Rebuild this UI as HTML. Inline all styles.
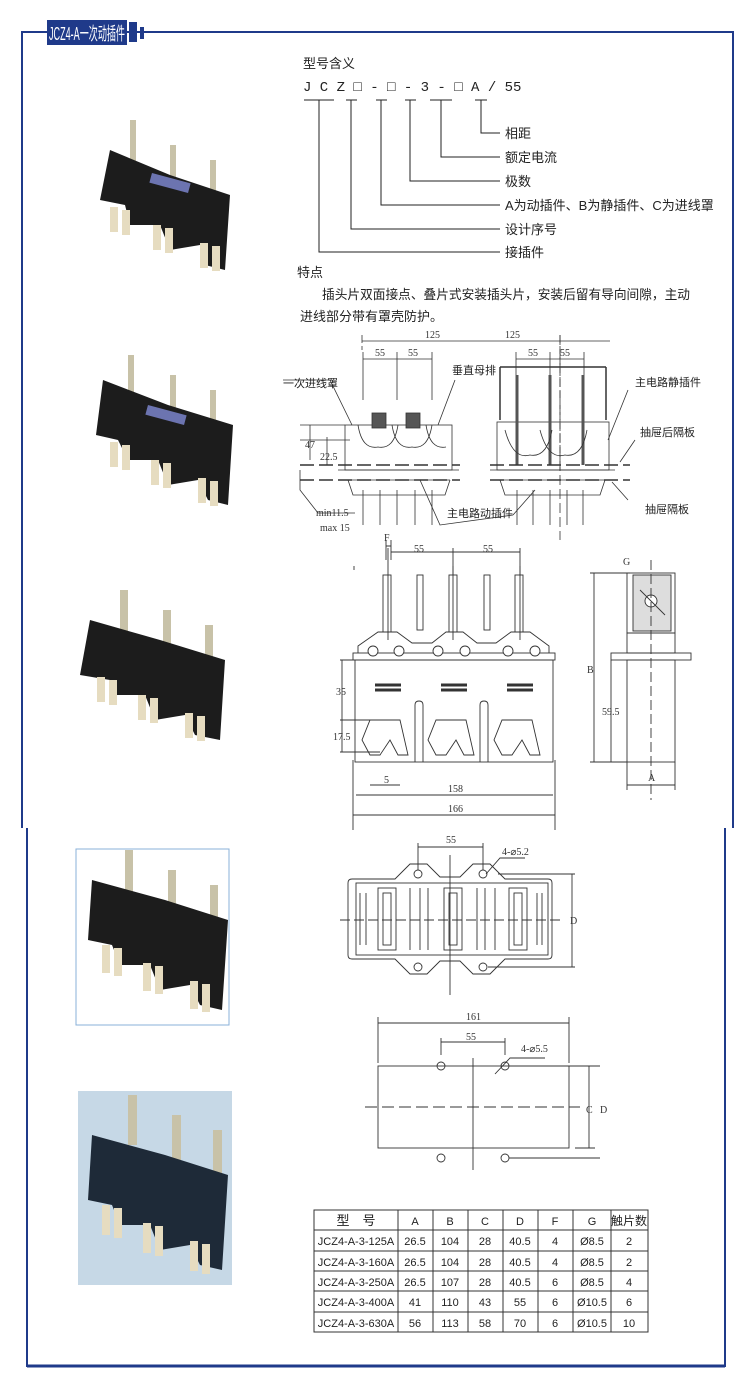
<!DOCTYPE html>
<html><head><meta charset="utf-8"><style>
body{margin:0;background:#fff;}
svg{display:block;font-family:"Liberation Sans","Noto Sans CJK SC",sans-serif;}
</style></head><body>
<svg width="750" height="1393" viewBox="0 0 750 1393" xmlns="http://www.w3.org/2000/svg">
<!-- frames -->
<g fill="none" stroke="#1f3a8a">
<path d="M22 828 V32 H733 V828" stroke-width="2"/>
<path d="M27 828 V1366 H725 V828" stroke-width="2"/>
<line x1="27" y1="1366" x2="725" y2="1366" stroke-width="3"/>
</g>
<rect x="47" y="20" width="80" height="25" fill="#1f3a8a"/>
<text x="49" y="40" font-size="18" fill="#fff" textLength="76" lengthAdjust="spacingAndGlyphs">JCZ4-A一次动插件</text>
<rect x="129" y="22" width="8" height="20" fill="#1f3a8a"/>
<rect x="140" y="27" width="4" height="12" fill="#1f3a8a"/>

<!-- photos -->
<g>
<g transform="translate(90,115)">
<rect x="40" y="5" width="6" height="45" fill="#c8c2a8"/><rect x="80" y="30" width="6" height="40" fill="#c8c2a8"/><rect x="120" y="45" width="6" height="40" fill="#c8c2a8"/>
<path d="M20 35 L80 60 L140 80 L135 155 L115 150 L110 130 L80 135 L70 110 L40 110 L35 90 L10 85 Z" fill="#1c1c1c"/>
<rect x="60" y="63" width="40" height="10" fill="#6c74b0" transform="rotate(15 80 68)"/>
<g fill="#e6dcc0"><rect x="20" y="92" width="8" height="25"/><rect x="32" y="95" width="8" height="25"/><rect x="63" y="110" width="8" height="25"/><rect x="75" y="113" width="8" height="25"/><rect x="110" y="128" width="8" height="25"/><rect x="122" y="131" width="8" height="25"/></g>
</g>
<g transform="translate(88,350)">
<rect x="40" y="5" width="6" height="45" fill="#c8c2a8"/><rect x="82" y="25" width="6" height="40" fill="#c8c2a8"/><rect x="122" y="40" width="6" height="40" fill="#c8c2a8"/>
<path d="M15 30 L80 55 L145 75 L140 155 L120 150 L110 130 L80 135 L70 110 L40 110 L30 90 L8 85 Z" fill="#1c1c1c"/>
<rect x="58" y="60" width="40" height="10" fill="#6c74b0" transform="rotate(15 78 65)"/>
<g fill="#e6dcc0"><rect x="22" y="92" width="8" height="25"/><rect x="34" y="95" width="8" height="25"/><rect x="63" y="110" width="8" height="25"/><rect x="75" y="113" width="8" height="25"/><rect x="110" y="128" width="8" height="25"/><rect x="122" y="131" width="8" height="25"/></g>
</g>
<g transform="translate(75,585)">
<rect x="45" y="5" width="8" height="45" fill="#c8c2a8"/><rect x="88" y="25" width="8" height="40" fill="#c8c2a8"/><rect x="130" y="40" width="8" height="40" fill="#c8c2a8"/>
<path d="M15 35 L85 55 L150 75 L145 155 L120 150 L110 130 L80 135 L70 110 L40 110 L35 95 L5 90 Z" fill="#1c1c1c"/>
<g fill="#e6dcc0"><rect x="22" y="92" width="8" height="25"/><rect x="34" y="95" width="8" height="25"/><rect x="63" y="110" width="8" height="25"/><rect x="75" y="113" width="8" height="25"/><rect x="110" y="128" width="8" height="25"/><rect x="122" y="131" width="8" height="25"/></g>
</g>
<rect x="76" y="849" width="153" height="176" fill="#fff" stroke="#8ab0d8"/>
<g transform="translate(80,850)">
<rect x="45" y="0" width="8" height="45" fill="#c8c2a8"/><rect x="88" y="20" width="8" height="40" fill="#c8c2a8"/><rect x="130" y="35" width="8" height="40" fill="#c8c2a8"/>
<path d="M12 30 L85 50 L148 70 L142 160 L120 155 L110 135 L80 140 L70 115 L40 115 L32 95 L8 90 Z" fill="#1c1c1c"/>
<g fill="#e6dcc0"><rect x="22" y="95" width="8" height="28"/><rect x="34" y="98" width="8" height="28"/><rect x="63" y="113" width="8" height="28"/><rect x="75" y="116" width="8" height="28"/><rect x="110" y="131" width="8" height="28"/><rect x="122" y="134" width="8" height="28"/></g>
</g>
<rect x="78" y="1091" width="154" height="194" fill="#c6d8e6"/>
<g transform="translate(80,1095)">
<rect x="48" y="0" width="9" height="50" fill="#c8c2a8"/><rect x="92" y="20" width="9" height="45" fill="#c8c2a8"/><rect x="133" y="35" width="9" height="45" fill="#c8c2a8"/>
<path d="M12 40 L85 60 L148 80 L142 175 L120 170 L110 150 L80 155 L70 130 L40 130 L32 110 L8 105 Z" fill="#1e2a38"/>
<g fill="#e6dcc0"><rect x="22" y="110" width="8" height="30"/><rect x="34" y="113" width="8" height="30"/><rect x="63" y="128" width="8" height="30"/><rect x="75" y="131" width="8" height="30"/><rect x="110" y="146" width="8" height="30"/><rect x="122" y="149" width="8" height="30"/></g>
</g>
</g>

<!-- model meaning -->
<g font-size="13" fill="#222">
<text x="303" y="68">型号含义</text>
<text x="303" y="91" font-family="Liberation Mono,monospace" font-size="14">J C Z □ - □ - 3 - □ A / 55</text>
<text x="505" y="138">相距</text>
<text x="505" y="162">额定电流</text>
<text x="505" y="186">极数</text>
<text x="505" y="210">A为动插件、B为静插件、C为进线罩</text>
<text x="505" y="234">设计序号</text>
<text x="505" y="257">接插件</text>
<text x="297" y="277">特点</text>
<text x="322" y="299" textLength="368" lengthAdjust="spacingAndGlyphs">插头片双面接点、叠片式安装插头片，安装后留有导向间隙，主动</text>
<text x="300" y="321">进线部分带有罩壳防护。</text>
</g>
<g stroke="#222" fill="none" stroke-width="1">
<path d="M304 100 H334 M346 100 H357 M376 100 H387 M405 100 H416 M430 100 H452 M475 100 H487"/>
<path d="M319 100 V252 H500 M351 100 V229 H500 M381 100 V205 H500 M410 100 V181 H500 M441 100 V157 H500 M481 100 V133 H500"/>
</g>

<!-- section drawing -->
<g stroke="#333" fill="none" stroke-width="0.8" font-family="Liberation Serif,serif">
<path d="M362 335 V350 M560 335 V470" stroke-dasharray="8 3"/>
<path d="M362 341 H610"/>
<path d="M363 359 H432 M363 352 V400 M397 352 V400 M432 352 V400" />
<path d="M516 359 H584 M516 352 V400 M550 352 V400 M584 352 V400"/>
<path d="M560 335 V540" stroke-dasharray="10 4"/>
<rect x="345" y="425" width="107" height="45"/>
<rect x="372" y="413" width="14" height="15" fill="#555"/><rect x="406" y="413" width="14" height="15" fill="#555"/>
<path d="M358 425 q4 25 20 22 q16 3 20 -22 M392 425 q4 25 20 22 q16 3 20 -22 M426 425 q4 25 20 22"/>
<path d="M338 470 H459 M345 480 H450 M348 480 l5 15 H445 l5 -15"/>
<path d="M363 490 V525 M380 490 V525 M397 490 V525 M415 490 V525 M432 490 V525"/>
<path d="M500 367 H606 M500 367 V420 M606 367 V420" stroke-width="1.5"/>
<rect x="497" y="422" width="112" height="48"/>
<path d="M517 375 V465 M550 375 V465 M583 375 V465" stroke-width="3" stroke="#555"/>
<path d="M505 430 q8 30 25 25 q17 3 22 -25 M540 430 q8 30 25 25 q17 3 22 -25" />
<path d="M490 470 H615 M497 480 H606 M500 480 l5 15 H600 l5 -15"/>
<path d="M517 490 V525 M533 490 V525 M550 490 V525 M567 490 V525 M583 490 V525"/>
<path d="M300 465 H460 M490 465 H630 M300 480 H460 M490 480 H630" stroke-dasharray="14 5" stroke-width="1.6"/>
<path d="M300 425 H345 M310 425 V460 M327 437 V465 M300 440 H350"/>
<path d="M300 470 V490 L318 513 H355"/>
<path d="M283 380 H330 L352 425 M455 380 L438 425 M628 390 L608 440 M635 440 L620 462 M628 500 L612 482 M513 515 L440 525 L420 480 M513 515 L535 490"/>
</g>
<g font-size="10" fill="#333" font-family="Liberation Serif,serif">
<text x="425" y="338">125</text><text x="505" y="338">125</text>
<text x="375" y="356">55</text><text x="408" y="356">55</text><text x="528" y="356">55</text><text x="560" y="356">55</text>
<text x="305" y="448">47</text><text x="320" y="460">22.5</text>
<text x="316" y="516">min11.5</text><text x="320" y="531">max 15</text>
</g>
<g font-size="11" fill="#222">
<text x="283" y="387">一次进线罩</text>
<text x="452" y="374">垂直母排</text>
<text x="635" y="386">主电路静插件</text>
<text x="640" y="436">抽屉后隔板</text>
<text x="447" y="517">主电路动插件</text>
<text x="645" y="513">抽屉隔板</text>
</g>

<!-- front view -->
<g stroke="#333" fill="none" stroke-width="0.9">
<path d="M386 540 V560 M391 540 V560 M386 546 H391 M391 552 H520 M453 548 V640 M520 548 V640 M388 548 V640" />
<rect x="383" y="575" width="8" height="57"/><rect x="449" y="575" width="8" height="57"/><rect x="515" y="575" width="8" height="57"/>
<rect x="417" y="575" width="6" height="55"/><rect x="484" y="575" width="6" height="55"/>
<path d="M358 653 V646 L378 632 H397 L412 643 H432 L446 632 H463 L477 643 H496 L511 632 H530 L549 646 V653"/>
<rect x="353" y="653" width="202" height="7"/>
<rect x="355" y="660" width="198" height="102"/>
<g fill="#fff"><circle cx="373" cy="651" r="5"/><circle cx="399" cy="651" r="5"/><circle cx="438" cy="651" r="5"/><circle cx="465" cy="651" r="5"/><circle cx="508" cy="651" r="5"/><circle cx="535" cy="651" r="5"/></g>
<path d="M375 685 H401 M375 690 H401 M441 685 H467 M441 690 H467 M507 685 H533 M507 690 H533" stroke-width="3"/>
<path d="M415 762 V705 q0 -4 4 -4 q4 0 4 4 V762 M480 762 V705 q0 -4 4 -4 q4 0 4 4 V762"/>
<path d="M370 720 H400 L408 755 H398 L390 740 L380 755 H370 L362 740 Z M436 720 H466 L474 755 H464 L456 740 L446 755 H436 L428 740 Z M502 720 H532 L540 755 H530 L522 740 L512 755 H502 L494 740 Z"/>
<path d="M340 660 H355 M340 720 H400 M340 752 H380 M342 660 V752 M370 785 H400 M356 795 H553 M353 815 H555 M353 760 V830 M555 760 V830"/>
<!-- side view -->
<rect x="627" y="573" width="48" height="60"/>
<rect x="633" y="575" width="38" height="56" fill="#ddd"/>
<circle cx="651" cy="601" r="6" fill="#fff"/>
<path d="M640 590 L665 615"/>
<rect x="627" y="633" width="48" height="20"/>
<rect x="611" y="653" width="80" height="7"/>
<rect x="627" y="660" width="48" height="102"/>
<path d="M651 560 V800" stroke-dasharray="10 4"/>
<path d="M590 573 H630 M590 762 H627 M594 573 V762 M611 660 V762 M627 762 V790 M675 762 V790 M627 785 H675"/>
<path d="M354 566 V570 M453 566 V575 M520 566 V575"/>
</g>
<g font-size="10" fill="#333" font-family="Liberation Serif,serif">
<text x="384" y="541">F</text><text x="414" y="552">55</text><text x="483" y="552">55</text>
<text x="336" y="695">35</text><text x="333" y="740">17.5</text><text x="384" y="783">5</text>
<text x="448" y="792">158</text><text x="448" y="812">166</text>
<text x="623" y="565">G</text><text x="587" y="673">B</text><text x="602" y="715">59.5</text><text x="648" y="781">A</text>
</g>

<!-- top view -->
<g stroke="#333" fill="none" stroke-width="0.9">
<path d="M352 879 H395 L410 864 H427 L440 877 H460 L473 864 H490 L505 879 H548 q4 0 4 4 V955 q0 4 -4 4 H505 L490 974 H473 L460 961 H440 L427 974 H410 L395 959 H352 q-4 0 -4 -4 V883 q0 -4 4 -4 Z"/>
<rect x="356" y="883" width="192" height="72"/>
<rect x="378" y="888" width="18" height="62"/><rect x="444" y="888" width="18" height="62"/><rect x="509" y="888" width="18" height="62"/>
<rect x="383" y="893" width="8" height="52"/><rect x="449" y="893" width="8" height="52"/><rect x="514" y="893" width="8" height="52"/>
<path d="M360 893 V945 M366 893 V945 M410 888 V950 M420 888 V950 M428 888 V950 M477 888 V950 M485 888 V950 M495 888 V950 M537 893 V945 M542 893 V945"/>
<path d="M340 920 H560" stroke-dasharray="10 4"/>
<path d="M450 855 V995"/>
<path d="M418 847 H483 M418 843 V870 M483 843 V870 M486 874 L500 858 H525 M498 874 H575 M488 967 H575 M572 874 V967"/>
<circle cx="418" cy="874" r="4"/><circle cx="483" cy="874" r="4"/><circle cx="418" cy="967" r="4"/><circle cx="483" cy="967" r="4"/>
<!-- bottom view -->
<rect x="378" y="1066" width="191" height="82"/>
<path d="M378 1017 V1063 M569 1017 V1063 M378 1023 H569 M441 1042 H505 M441 1038 V1055 M505 1038 V1055"/>
<path d="M365 1107 H580" stroke-dasharray="12 5"/>
<path d="M473 1058 V1170"/>
<path d="M495 1074 L510 1058 H545 M509 1066 H600 M509 1158 H600 M589 1066 V1148 M575 1066 H595 M575 1148 H595"/>
<circle cx="441" cy="1066" r="4"/><circle cx="505" cy="1066" r="4"/><circle cx="441" cy="1158" r="4"/><circle cx="505" cy="1158" r="4"/>
</g>
<g font-size="10" fill="#333" font-family="Liberation Serif,serif">
<text x="446" y="843">55</text><text x="502" y="855">4-⌀5.2</text><text x="570" y="924">D</text>
<text x="466" y="1020">161</text><text x="466" y="1040">55</text><text x="521" y="1052">4-⌀5.5</text>
<text x="586" y="1113">C</text><text x="600" y="1113">D</text>
</g>

<!-- table -->
<g stroke="#333" stroke-width="1" fill="none">
<rect x="314" y="1210" width="334" height="122"/>
<path d="M314 1230 H648 M314 1251 H648 M314 1271 H648 M314 1291 H648 M314 1312 H648"/>
<path d="M398 1210 V1332 M433 1210 V1332 M468 1210 V1332 M503 1210 V1332 M538 1210 V1332 M573 1210 V1332 M611 1210 V1332"/>
</g>
<g font-size="11" fill="#222" text-anchor="middle">
<text x="356" y="1225" font-size="13">型　号</text><text x="415" y="1225">A</text><text x="450" y="1225">B</text><text x="485" y="1225">C</text><text x="520" y="1225">D</text><text x="555" y="1225">F</text><text x="592" y="1225">G</text><text x="629" y="1225" font-size="12">触片数</text>
<text x="356" y="1245">JCZ4-A-3-125A</text><text x="415" y="1245">26.5</text><text x="450" y="1245">104</text><text x="485" y="1245">28</text><text x="520" y="1245">40.5</text><text x="555" y="1245">4</text><text x="592" y="1245">Ø8.5</text><text x="629" y="1245">2</text>
<text x="356" y="1266">JCZ4-A-3-160A</text><text x="415" y="1266">26.5</text><text x="450" y="1266">104</text><text x="485" y="1266">28</text><text x="520" y="1266">40.5</text><text x="555" y="1266">4</text><text x="592" y="1266">Ø8.5</text><text x="629" y="1266">2</text>
<text x="356" y="1286">JCZ4-A-3-250A</text><text x="415" y="1286">26.5</text><text x="450" y="1286">107</text><text x="485" y="1286">28</text><text x="520" y="1286">40.5</text><text x="555" y="1286">6</text><text x="592" y="1286">Ø8.5</text><text x="629" y="1286">4</text>
<text x="356" y="1306">JCZ4-A-3-400A</text><text x="415" y="1306">41</text><text x="450" y="1306">110</text><text x="485" y="1306">43</text><text x="520" y="1306">55</text><text x="555" y="1306">6</text><text x="592" y="1306">Ø10.5</text><text x="629" y="1306">6</text>
<text x="356" y="1327">JCZ4-A-3-630A</text><text x="415" y="1327">56</text><text x="450" y="1327">113</text><text x="485" y="1327">58</text><text x="520" y="1327">70</text><text x="555" y="1327">6</text><text x="592" y="1327">Ø10.5</text><text x="629" y="1327">10</text>
</g>
</svg>
</body></html>
